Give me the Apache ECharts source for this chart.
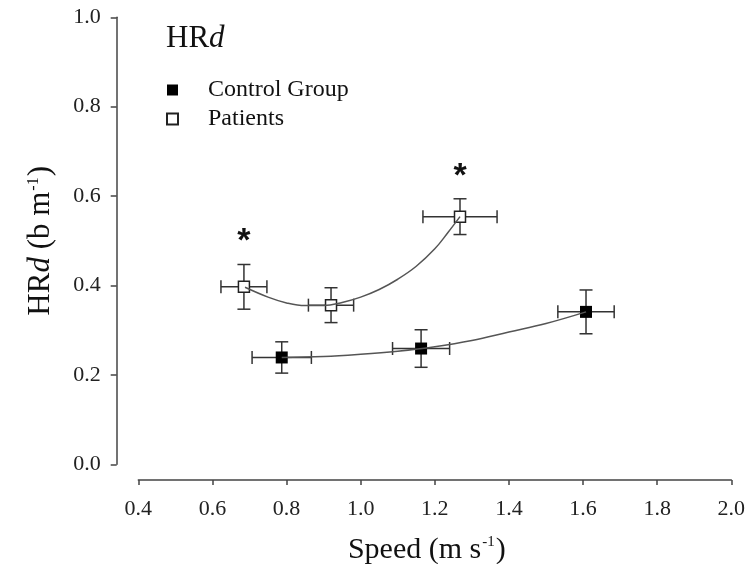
<!DOCTYPE html>
<html>
<head>
<meta charset="utf-8">
<script src="https://cdn.jsdelivr.net/npm/echarts@6/dist/echarts.min.js"></script>
<style>html,body{margin:0;padding:0;background:#fff}#chart{width:751px;height:564px}</style>
</head>
<body>
<div id="chart"></div>
<script>
// ---- Data ----
const xTicks = [0.4, 0.6, 0.8, 1.0, 1.2, 1.4, 1.6, 1.8, 2.0];
const yTicks = [0.0, 0.2, 0.4, 0.6, 0.8, 1.0];

const speedControl = [0.787, 1.163, 1.608];
const hrdControl = [0.239, 0.259, 0.341];
const speedErrControl = [0.080, 0.077, 0.076];
const hrdErrControl = [0.035, 0.042, 0.049];

const speedPatients = [0.685, 0.920, 1.268];
const hrdPatients = [0.397, 0.356, 0.554];
const speedErrPatients = [0.062, 0.061, 0.100];
const hrdErrPatients = [0.050, 0.039, 0.040];

// fitted curves
const fitControlX = [0.787, 0.9, 1.0, 1.1, 1.2, 1.3, 1.4, 1.5, 1.608];
const fitControlY = [0.239, 0.241, 0.246, 0.253, 0.263, 0.277, 0.296, 0.315, 0.341];
const fitPatientsX = [0.688, 0.75, 0.8, 0.85, 0.9, 0.95, 1.0, 1.05, 1.1, 1.15, 1.2, 1.235, 1.268];
const fitPatientsY = [0.396, 0.374, 0.361, 0.355, 0.355, 0.362, 0.374, 0.391, 0.414, 0.443, 0.482, 0.518, 0.554];

// significance asterisks
const sigSpeed = [0.685, 1.268];
const sigHrd = [0.536, 0.681];

const seriesNames = ['Control Group', 'Patients'];

// ---- Chart ----
const SERIF = 'Liberation Serif';
const chart = echarts.init(document.getElementById('chart'));

function zip(a, b) { return a.map((v, i) => [v, b[i]]); }

function errorBars(xs, ys, xe, ye) {
  return {
    type: 'custom',
    silent: true,
    z: 2,
    encode: { x: 0, y: 1 },
    data: xs.map((x, i) => [x, ys[i], xe[i], ye[i]]),
    renderItem: function (params, api) {
      const x = api.value(0), y = api.value(1), dx = api.value(2), dy = api.value(3);
      const l = api.coord([x - dx, y]);
      const r = api.coord([x + dx, y]);
      const t = api.coord([x, y + dy]);
      const b = api.coord([x, y - dy]);
      const cap = 6.5;
      const st = { stroke: '#333', lineWidth: 1.5, fill: null };
      const ln = (x1, y1, x2, y2) => ({ type: 'line', shape: { x1, y1, x2, y2 }, style: st });
      return {
        type: 'group',
        children: [
          ln(l[0], l[1], r[0], r[1]),
          ln(t[0], t[1], b[0], b[1]),
          ln(l[0], l[1] - cap, l[0], l[1] + cap),
          ln(r[0], r[1] - cap, r[0], r[1] + cap),
          ln(t[0] - cap, t[1], t[0] + cap, t[1]),
          ln(b[0] - cap, b[1], b[0] + cap, b[1])
        ]
      };
    }
  };
}

const option = {
  animation: false,
  backgroundColor: '#fff',
  title: {
    text: '{a|HR}{b|d}',
    left: 161,
    top: 18,
    textStyle: {
      rich: {
        a: { fontFamily: SERIF, fontSize: 31, fontWeight: 'normal', color: '#111' },
        b: { fontFamily: SERIF, fontSize: 31, fontWeight: 'normal', fontStyle: 'italic', color: '#111' }
      }
    }
  },
  legend: {
    orient: 'vertical',
    left: 161,
    top: 73,
    itemWidth: 11,
    itemHeight: 11,
    itemGap: 5,
    icon: 'rect',
    data: seriesNames,
    textStyle: { fontFamily: SERIF, fontSize: 24, color: '#111', padding: [0, 0, 0, 25], lineHeight: 24 }
  },
  grid: { left: 138.3, right: 19.7, top: 17.3, bottom: 99.7, containLabel: false, outerBoundsMode: 'none' },
  xAxis: {
    type: 'value',
    min: xTicks[0],
    max: xTicks[xTicks.length - 1],
    interval: 0.2,
    offset: 15.7,
    name: '{t|Speed (m s}{s|-1}{t|)}',
    nameLocation: 'middle',
    nameGap: 55,
    nameTextStyle: {
      padding: [0, 16, 0, 0],
      rich: {
        t: { fontFamily: SERIF, fontSize: 30, color: '#111' },
        s: { fontFamily: SERIF, fontSize: 15, color: '#111', verticalAlign: 'top', padding: [0, 1, 14, 1] }
      }
    },
    axisLine: { show: true, onZero: false, lineStyle: { color: '#444', width: 1.5 } },
    axisTick: { show: true, inside: false, length: 5, lineStyle: { color: '#444', width: 1.5 } },
    splitLine: { show: false },
    axisLabel: {
      fontFamily: SERIF, fontSize: 22, color: '#222', margin: 18,
      formatter: v => v.toFixed(1)
    }
  },
  yAxis: {
    type: 'value',
    min: yTicks[0],
    max: yTicks[yTicks.length - 1],
    interval: 0.2,
    offset: 21.6,
    name: '{t|HR}{i|d}{t| (b m}{s|-1}{t|)}',
    nameLocation: 'middle',
    nameGap: 60,
    nameTextStyle: {
      rich: {
        t: { fontFamily: SERIF, fontSize: 31, color: '#111' },
        i: { fontFamily: SERIF, fontSize: 31, fontStyle: 'italic', color: '#111' },
        s: { fontFamily: SERIF, fontSize: 16, color: '#111', verticalAlign: 'top', padding: [0, 1, 14, 1] }
      }
    },
    axisLine: { show: true, onZero: false, lineStyle: { color: '#444', width: 1.5 } },
    axisTick: { show: true, inside: false, length: 6, lineStyle: { color: '#444', width: 1.5 } },
    splitLine: { show: false },
    axisLabel: {
      fontFamily: SERIF, fontSize: 22, color: '#222', margin: 16,
      formatter: v => v.toFixed(1)
    }
  },
  series: [
    errorBars(speedControl, hrdControl, speedErrControl, hrdErrControl),
    errorBars(speedPatients, hrdPatients, speedErrPatients, hrdErrPatients),
    {
      name: seriesNames[0],
      type: 'scatter',
      symbol: 'rect',
      symbolSize: 12,
      z: 3,
      itemStyle: { color: '#000', opacity: 1 },
      data: zip(speedControl, hrdControl)
    },
    {
      name: seriesNames[1],
      type: 'scatter',
      symbol: 'rect',
      symbolSize: 11,
      z: 3,
      itemStyle: { color: '#fff', borderColor: '#222', borderWidth: 1.5, opacity: 1 },
      data: zip(speedPatients, hrdPatients)
    },
    {
      type: 'line',
      smooth: 0.4,
      showSymbol: false,
      silent: true,
      z: 4,
      lineStyle: { color: '#555', width: 1.5 },
      data: zip(fitControlX, fitControlY)
    },
    {
      type: 'line',
      smooth: 0.4,
      showSymbol: false,
      silent: true,
      z: 4,
      lineStyle: { color: '#555', width: 1.5 },
      data: zip(fitPatientsX, fitPatientsY)
    },
    {
      type: 'custom',
      silent: true,
      z: 5,
      encode: { x: 0, y: 1 },
      data: zip(sigSpeed, sigHrd),
      renderItem: function (params, api) {
        const p = api.coord([api.value(0), api.value(1)]);
        return {
          type: 'text',
          x: p[0],
          y: p[1],
          style: {
            text: '*',
            fontFamily: 'Liberation Sans',
            fontWeight: 'bold',
            fontSize: 34,
            fill: '#111',
            align: 'center',
            verticalAlign: 'top'
          }
        };
      }
    }
  ]
};
chart.setOption(option);
</script>
</body>
</html>
